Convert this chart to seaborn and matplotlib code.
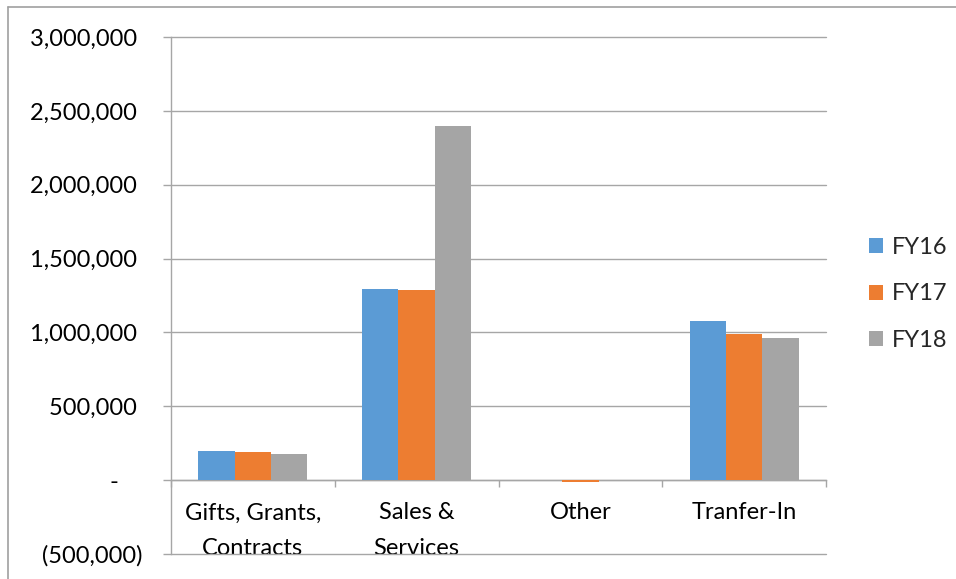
import matplotlib
matplotlib.use("Agg")
import matplotlib.pyplot as plt
import seaborn as sns
import pandas as pd
from matplotlib.patches import Patch
from matplotlib.lines import Line2D

# ---- data ----
categories = ["Gifts, Grants,\nContracts", "Sales &\nServices", "Other", "Tranfer-In"]
series = ["FY16", "FY17", "FY18"]
fy16 = [196000, 1297000, 0, 1074000]
fy17 = [191000, 1290000, -10000, 990000]
fy18 = [174000, 2400000, 0, 959000]
colors = ["#5B9BD5", "#ED7D31", "#A5A5A5"]
yticks = [-500000, 0, 500000, 1000000, 1500000, 2000000, 2500000, 3000000]
ytick_labels = ["(500,000)", "-    ", "500,000 ", "1,000,000 ", "1,500,000 ",
                "2,000,000 ", "2,500,000 ", "3,000,000 "]

rows = []
for s, vals in zip(series, [fy16, fy17, fy18]):
    for c, v in zip(categories, vals):
        rows.append({"category": c, "series": s, "value": v})
df = pd.DataFrame(rows)

sns.set_theme(style="white")
plt.rcParams['font.family'] = ['Lato', 'DejaVu Sans']

W, H = 956, 579
fig = plt.figure(figsize=(W / 100, H / 100), dpi=100)
L, R, T, B = 171, 826, 37, 554
ax = fig.add_axes([L / W, (H - B) / H, (R - L) / W, (B - T) / H])

sns.barplot(data=df, x="category", y="value", hue="series", order=categories,
            hue_order=series, palette=colors, width=2 / 3, gap=0, saturation=1,
            errorbar=None, legend=False, linewidth=0, ax=ax)

grid_c = "#A6A6A6"

ax.set_xlabel("")
ax.set_ylabel("")
for sp in ["top", "right"]:
    ax.spines[sp].set_visible(False)
ax.spines["bottom"].set_position(("data", 0))
ax.spines["bottom"].set_color(grid_c)
ax.spines["left"].set_color(grid_c)
ax.spines["bottom"].set_linewidth(1.0)
ax.spines["left"].set_linewidth(1.0)
ax.spines["bottom"].set_zorder(0.5)

ax.set_ylim(-500000, 3000000)
ax.set_xlim(-0.5, 3.5)
ax.set_yticks(yticks)
ax.set_yticklabels(ytick_labels)
ax.yaxis.grid(True, color=grid_c, lw=1.0)
ax.xaxis.grid(False)
ax.set_axisbelow(True)

fs = 17
ax.tick_params(axis="y", which="major", length=5.8, width=1.0, color=grid_c,
               labelsize=fs, labelcolor="black", pad=14.4, left=True)
ax.set_xticks(range(len(categories)))
ax.set_xticklabels(categories)
ax.set_xticks([-0.5, 0.5, 1.5, 2.5, 3.5], minor=True)
ax.tick_params(axis="x", which="major", length=0, labelsize=fs,
               labelcolor="black", pad=16)
ax.tick_params(axis="x", which="minor", length=5, width=1.0, color=grid_c,
               bottom=True)
for t in ax.get_xticklabels():
    t.set_linespacing(1.85)
for gl in ax.get_ygridlines():
    gl.set_clip_on(False)

handles = [Patch(facecolor=c, edgecolor="none", label=s) for c, s in zip(colors, series)]
fig.legend(handles=handles, loc="center left",
           bbox_to_anchor=(869 / W, 1 - 294 / H), frameon=False,
           fontsize=fs, handlelength=0.6, handleheight=0.6,
           handletextpad=0.35, labelspacing=1.08, borderpad=0,
           borderaxespad=0)

# outer chart border (top and left visible)
fig.add_artist(Line2D([8 / W, 1.0], [1 - 6.5 / H, 1 - 6.5 / H],
                      transform=fig.transFigure, color="#A0A0A0", lw=1.2))
fig.add_artist(Line2D([8 / W, 8 / W], [0, 1 - 6.5 / H],
                      transform=fig.transFigure, color="#A0A0A0", lw=1.2))

fig.savefig("out.png", dpi=100)
